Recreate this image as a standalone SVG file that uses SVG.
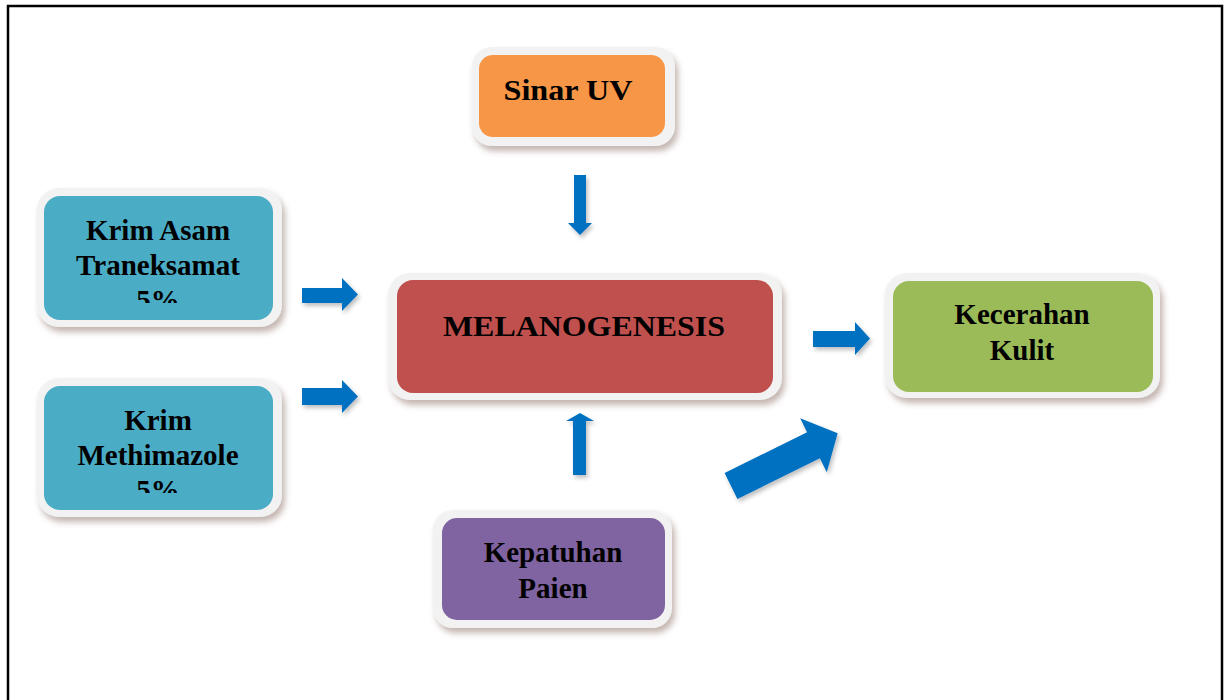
<svg xmlns="http://www.w3.org/2000/svg" width="1230" height="700" viewBox="0 0 1230 700">
<style>
.frame{fill:#f2f2f2;}
.lbl{font-family:"Liberation Serif","Times New Roman",serif;font-weight:bold;font-size:29px;fill:#000;text-anchor:middle;}
.arr{fill:#0070c0;}
</style>
<defs>
<filter id="sh" x="-10%" y="-10%" width="125%" height="130%">
<feDropShadow dx="3" dy="5" stdDeviation="3" flood-color="#7a5a50" flood-opacity="0.45"/>
</filter>
<filter id="ash" x="-20%" y="-20%" width="150%" height="150%">
<feDropShadow dx="2" dy="3" stdDeviation="2" flood-color="#000" flood-opacity="0.25"/>
</filter>
<clipPath id="c1"><rect x="44" y="196" width="229" height="107"/></clipPath>
<clipPath id="c2"><rect x="44" y="386" width="229" height="107"/></clipPath>
</defs>
<rect width="1230" height="700" fill="#fff"/>
<path d="M8 700 V6 H1222 V700" fill="none" stroke="#000" stroke-width="2.5"/>

<g id="sinar-uv">
<rect class="frame" x="472" y="47" width="203" height="99" rx="20" filter="url(#sh)"/>
<rect x="479" y="55" width="186" height="82" rx="14" fill="#f79646"/>
<text class="lbl" x="568" y="100" font-size="33" textLength="129" lengthAdjust="spacingAndGlyphs">Sinar UV</text>
</g>

<g id="krim-asam">
<rect class="frame" x="37" y="188" width="245" height="139" rx="22" filter="url(#sh)"/>
<rect x="44" y="196" width="229" height="124" rx="16" fill="#4bacc6"/>
<g clip-path="url(#c1)">
<text class="lbl" x="158" y="240">Krim Asam</text>
<text class="lbl" x="158" y="275">Traneksamat</text>
<text class="lbl" x="158" y="310">5%</text>
</g>
</g>

<g id="krim-methimazole">
<rect class="frame" x="37" y="378" width="245" height="139" rx="22" filter="url(#sh)"/>
<rect x="44" y="386" width="229" height="124" rx="16" fill="#4bacc6"/>
<g clip-path="url(#c2)">
<text class="lbl" x="158" y="430">Krim</text>
<text class="lbl" x="158" y="465">Methimazole</text>
<text class="lbl" x="158" y="500">5%</text>
</g>
</g>

<g id="melanogenesis">
<rect class="frame" x="388" y="273" width="394" height="127" rx="22" filter="url(#sh)"/>
<rect x="397" y="280" width="376" height="113" rx="16" fill="#c0504d"/>
<text class="lbl" x="584" y="336" font-size="34" textLength="282" lengthAdjust="spacingAndGlyphs">MELANOGENESIS</text>
</g>

<g id="kecerahan-kulit">
<rect class="frame" x="885" y="273" width="275" height="125" rx="22" filter="url(#sh)"/>
<rect x="893" y="281" width="260" height="111" rx="16" fill="#9bbb59"/>
<text class="lbl" x="1022" y="324">Kecerahan</text>
<text class="lbl" x="1022" y="360">Kulit</text>
</g>

<g id="kepatuhan-paien">
<rect class="frame" x="433" y="510" width="239" height="118" rx="20" filter="url(#sh)"/>
<rect x="442" y="518" width="223" height="102" rx="15" fill="#8064a2"/>
<text class="lbl" x="553" y="562">Kepatuhan</text>
<text class="lbl" x="553" y="598">Paien</text>
</g>

<g id="connectors" filter="url(#ash)">
<polygon class="arr" points="574,175 586,175 586,223 592,223 580,235 568,223 574,223"/>
<polygon class="arr" points="573,475 586,475 586,421 594,421 580,413 566,421 573,421"/>
<polygon class="arr" points="302,288 342,288 342,278 358,294.5 342,311 342,303 302,303"/>
<polygon class="arr" points="302,388 342,388 342,380 358,396.5 342,413 342,405 302,405"/>
<polygon class="arr" points="813,331 855,331 855,322 870,338.5 855,355 855,347 813,347"/>
<polygon class="arr" transform="translate(731,486) rotate(-26.3)" points="0,-14.5 92,-14.5 92,-30 119,0 92,30 92,14.5 0,14.5"/>
</g>
</svg>
